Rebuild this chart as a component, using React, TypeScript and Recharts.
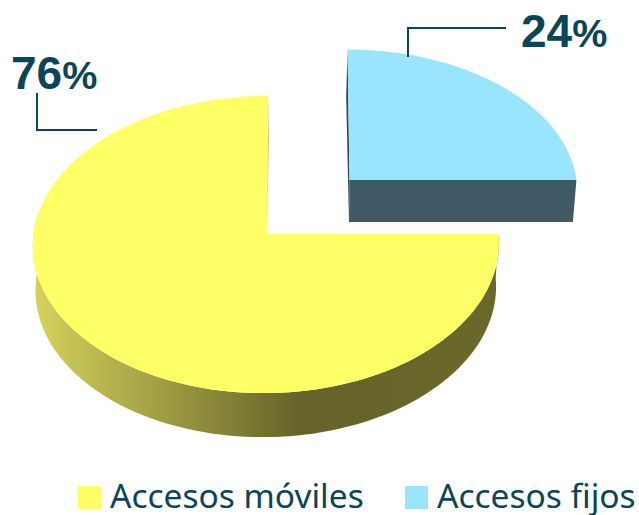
import { Legend, Pie, PieChart } from 'recharts';

const categories = ['Accesos móviles', 'Accesos fijos'];
const values = [76, 24];
const colors = ['#FFFF66', '#99E4FF'];
const wallColors = ['url(#yellowWall)', '#3F5A64'];
const edgeColors = ['#BDB94E', '#2F4650'];

const TEXT_COLOR = '#0B4558';

const tableData = categories.map((name, i) => ({ name, value: values[i], fill: colors[i] }));

// where each slice sits relative to the pie centre, top face and bottom face
// shift moves the rim only, the apex of the slice stays put
const topRings = [
    { dx: 0, dy: 0, shift: -1, rxScale: 1, ryScale: 0.636, skew: 2.2 },
    { dx: 82.5, dy: -54, shift: 0, rxScale: 0.976, ryScale: 0.601, skew: -2.1 },
];
const bottomRings = [
    { dx: 0, dy: 44, shift: -1, rxScale: 0.988, ryScale: 0.636, skew: 3 },
    { dx: 82, dy: -12, shift: 0, rxScale: 0.963, ryScale: 0.576, skew: -3 },
];
const PERSPECTIVE = 0.0707;

const labelTexts = [
    { x: 11, y: 89, line: '37,93 37,130 97,130' },
    { x: 521, y: 47, line: '408,57 408,28 506,28' },
];
const legendLefts = [78, 405];
const legendWidths = [300, 234];

// the tilted 3D view in the original makes the 76% slice read as a three-quarter turn
const splitAngle = (-360 * values[0]) / (values[0] + values[1]);
const drawnSplit = -270;
const warp = (a: number) =>
    a >= splitAngle
        ? (a * drawnSplit) / splitAngle
        : drawnSplit + ((a - splitAngle) * (360 + drawnSplit)) / (360 + splitAngle);

type Ring = { dx: number; dy: number; shift: number; rxScale: number; ryScale: number; skew: number };

function project(deg: number, ring: Ring, cx: number, cy: number, r: number) {
    const rad = (deg * Math.PI) / 180;
    const u = Math.cos(rad);
    const v = Math.sin(rad);
    const w = 1 + PERSPECTIVE * v;
    return [
        cx + ring.dx + ring.shift + (r * ring.rxScale * u + ring.skew * v) / w,
        cy + ring.dy - (r * ring.ryScale * v) / w,
    ];
}

const apex = (ring: Ring, cx: number, cy: number) => [cx + ring.dx, cy + ring.dy];

function arc(from: number, to: number, ring: Ring, cx: number, cy: number, r: number) {
    const steps = Math.max(2, Math.ceil(Math.abs(to - from) / 2));
    const pts = [];
    for (let i = 0; i <= steps; i++) {
        pts.push(project(from + ((to - from) * i) / steps, ring, cx, cy, r));
    }
    return pts;
}

const toPath = (pts: number[][]) =>
    'M' + pts.map(p => `${p[0].toFixed(2)},${p[1].toFixed(2)}`).join('L') + 'Z';

function SliceShape(props: any) {
    const { cx, cy, outerRadius, startAngle, endAngle, fill, index } = props;
    const a0 = warp(startAngle);
    const a1 = warp(endAngle);
    const top = topRings[index];
    const bottom = bottomRings[index];
    const apexTop = apex(top, cx, cy);
    const apexBottom = apex(bottom, cx, cy);

    // outer wall only on the front half, the back is hidden behind the top face
    const wallFrom = a0;
    const wallTo = Math.max(a1, -190);
    const outerWall = index === 0
        ? [...arc(wallFrom, wallTo, top, cx, cy, outerRadius), ...arc(wallTo, wallFrom, bottom, cx, cy, outerRadius)]
        : [];
    const frontFace = index === 1
        ? [project(a1, top, cx, cy, outerRadius), apexTop, apexBottom, project(a1, bottom, cx, cy, outerRadius)]
        : [];
    const notchFace = index === 0
        ? [project(a1, top, cx, cy, outerRadius), project(a1, bottom, cx, cy, outerRadius), apexTop]
        : [project(a0, top, cx, cy, outerRadius), project(a0, bottom, cx, cy, outerRadius), apexBottom, apexTop];

    const topFace = [apexTop, ...arc(a0, a1, top, cx, cy, outerRadius)];

    return (
        <g>
            {outerWall.length > 0 && <path d={toPath(outerWall)} fill={wallColors[index]} />}
            {frontFace.length > 0 && <path d={toPath(frontFace)} fill={wallColors[index]} />}
            <path d={toPath(notchFace)} fill={edgeColors[index]} />
            <path d={toPath(topFace)} fill={fill} />
        </g>
    );
}

function SliceLabel(props: any) {
    const { index, value } = props;
    const spot = labelTexts[index];
    return (
        <g>
            <polyline points={spot.line} fill="none" stroke={TEXT_COLOR} strokeWidth={2} />
            <text
                x={spot.x}
                y={spot.y}
                fill={TEXT_COLOR}
                fontFamily="Liberation Sans"
                fontWeight="bold"
                fontSize={46}
            >
                {value}
                <tspan fontSize={39.5}>%</tspan>
            </text>
        </g>
    );
}

function LegendItems(props: any) {
    const items = props.payload || [];
    return (
        <div style={{ position: 'relative', width: 639, height: 45 }}>
            {items.map((item: any, i: number) => (
                <div
                    key={item.value}
                    style={{
                        position: 'absolute',
                        left: legendLefts[i],
                        top: 0,
                        width: legendWidths[i],
                        height: 45,
                        whiteSpace: 'nowrap',
                    }}
                >
                    <span
                        style={{
                            position: 'absolute',
                            left: 0,
                            top: 16,
                            width: 23,
                            height: 23,
                            background: colors[i],
                        }}
                    />
                    <span
                        style={{
                            position: 'absolute',
                            left: 32,
                            top: 5,
                            fontFamily: 'Noto Sans',
                            fontSize: 33.5,
                            lineHeight: '40px',
                            color: TEXT_COLOR,
                        }}
                    >
                        {item.value}
                    </span>
                </div>
            ))}
        </div>
    );
}

export default function App() {
    return (
        <div style={{ position: 'absolute', left: 0, top: 0, width: 639, height: 515, background: '#fff' }}>
            <PieChart width={639} height={515} margin={{ top: 0, right: 0, bottom: 0, left: 0 }}>
                <defs>
                    <linearGradient id="yellowWall" x1="0" y1="0" x2="1" y2="0">
                        <stop offset="0" stopColor="#D6D35C" />
                        <stop offset="0.57" stopColor="#66632A" />
                        <stop offset="1" stopColor="#6B682B" />
                    </linearGradient>
                </defs>
                <Pie
                    data={tableData}
                    dataKey="value"
                    nameKey="name"
                    cx={267}
                    cy={234}
                    innerRadius={0}
                    outerRadius={232.5}
                    startAngle={0}
                    endAngle={-360}
                    stroke="none"
                    shape={SliceShape}
                    label={SliceLabel}
                    labelLine={false}
                    isAnimationActive={false}
                />
                <Legend
                    content={LegendItems}
                    itemSorter={null}
                    wrapperStyle={{ left: 0, top: 470, width: 639, height: 45 }}
                />
            </PieChart>
        </div>
    );
}
